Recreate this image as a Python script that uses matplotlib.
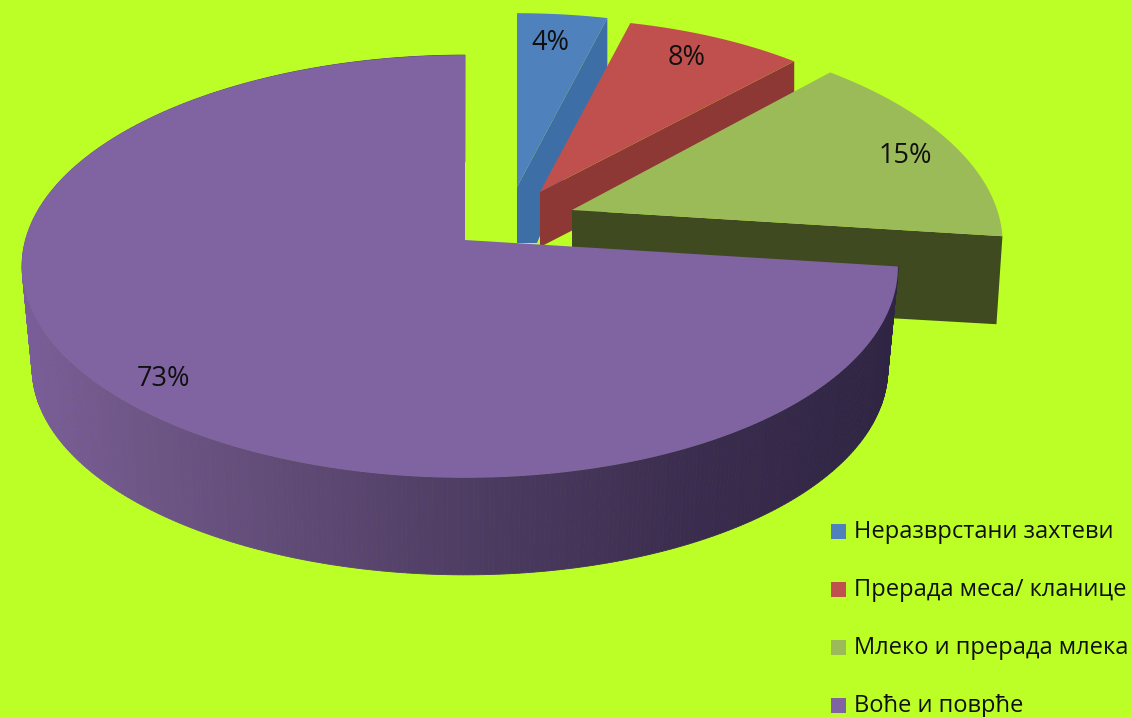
import numpy as np
import matplotlib
matplotlib.use("Agg")
import matplotlib.pyplot as plt
from matplotlib.patches import Polygon, Rectangle
from matplotlib.colors import to_rgb

categories = ["Неразврстани захтеви", "Прерада меса/ кланице", "Млеко и прерада млека", "Воће и поврће"]
values = [4, 8, 15, 73]
top_colors = ["#4F81BD", "#C0504D", "#9BBB59", "#8064A2"]
side_colors = ["#3D6FA6", "#8E3835", "#3F4A20", "#6A5088"]

BG = "#BCFF27"
FONT = ["Open Sans", "Noto Sans", "DejaVu Sans"]

fig = plt.figure(figsize=(11.32, 7.17), dpi=100, facecolor=BG)
ax = fig.add_axes([0, 0, 1, 1])
ax.set_xlim(0, 1132)
ax.set_ylim(717, 0)
ax.axis("off")

K, A, E, B = 0.125, 434.5, -5.0, 208.0


def rim(theta, apex, scale=1.0, lean=0.0):
    """Perspective projection of circle points; theta clockwise from 12 o'clock."""
    u, v = np.sin(theta), np.cos(theta)
    w = 1 + K * v
    dx = (A + E * u) * u / w * scale
    dy = -B * v / w * scale
    return np.column_stack([apex[0] + dx - lean * dy, apex[1] + dy])


edges = np.radians(np.concatenate([[0], np.cumsum(values)]) * 3.6)
theta = [np.linspace(edges[i], edges[i + 1], max(int(values[i] * 6), 12)) for i in range(4)]

# --- blue (back)
apex = (517, 187)
r = rim(theta[0], apex, 0.94)
ax.add_patch(Polygon([apex, r[-1], r[-1] + (0, 57), (537, 243), (517, 243)], fc=side_colors[0], ec="none", zorder=1))
ax.add_patch(Polygon(np.vstack([[apex], r]), fc=top_colors[0], ec="none", zorder=2))

# --- red
apex = (540, 192)
r = rim(theta[1], apex, 0.94)
ax.add_patch(Polygon([apex, r[-1], r[-1] + (0, 55), (apex[0], apex[1] + 55)], fc=side_colors[1], ec="none", zorder=3))
ax.add_patch(Polygon(np.vstack([[apex], r]), fc=top_colors[1], ec="none", zorder=4))

# --- green
apex = (572, 210)
r = rim(theta[2], apex, 0.99, -0.07)
ax.add_patch(Polygon([apex, r[-1], r[-1] + (-6, 88), (apex[0], apex[1] + 90)], fc=side_colors[2], ec="none", zorder=5))
ax.add_patch(Polygon(np.vstack([[apex], r]), fc=top_colors[2], ec="none", zorder=6))

# --- purple (front) with a dark shaded rim
apex = (465, 240)
r = rim(theta[3], apex)
ctr_top = np.array([460.0, 266.0])
ctr_bot = np.array([460.0, 368.0])
bot = ctr_bot + 0.977 * (r - ctr_top)
stops_x = np.array([25, 130, 300, 500, 700, 890])
stops_c = np.array([to_rgb(c) for c in ["#7A5E9A", "#705789", "#5F4A75", "#4B3A60", "#3A2C4E", "#2F2444"]])
for i in range(len(r) - 1):
    xm = 0.5 * (bot[i, 0] + bot[i + 1, 0])
    c = [np.interp(xm, stops_x, stops_c[:, k]) for k in range(3)]
    ax.add_patch(Polygon([r[i], r[i + 1], bot[i + 1], bot[i]], fc=c, ec=c, lw=0.6, zorder=7))
ax.add_patch(Polygon(np.vstack([[apex], r]), fc=top_colors[3], ec="none", zorder=8))

# --- data labels
label_pos = [(550, 42.5), (687, 58), (905, 156), (164, 378.5)]
for val, (x, y) in zip(values, label_pos):
    ax.text(x, y, f"{val}%", ha="center", va="center", fontsize=19.5, family=FONT, color="#101010", zorder=10)

# --- legend
legend_y = [531.5, 589.5, 647.5, 705.5]
for name, col, y in zip(categories, top_colors, legend_y):
    ax.add_patch(Rectangle((831, y - 7.5), 15, 15, fc=col, ec="none", zorder=10))
    ax.text(854, y + 0.5, name, ha="left", va="center", fontsize=17.0, family=FONT, color="#101010", zorder=10)

fig.savefig("out.png", dpi=100, facecolor=BG)
